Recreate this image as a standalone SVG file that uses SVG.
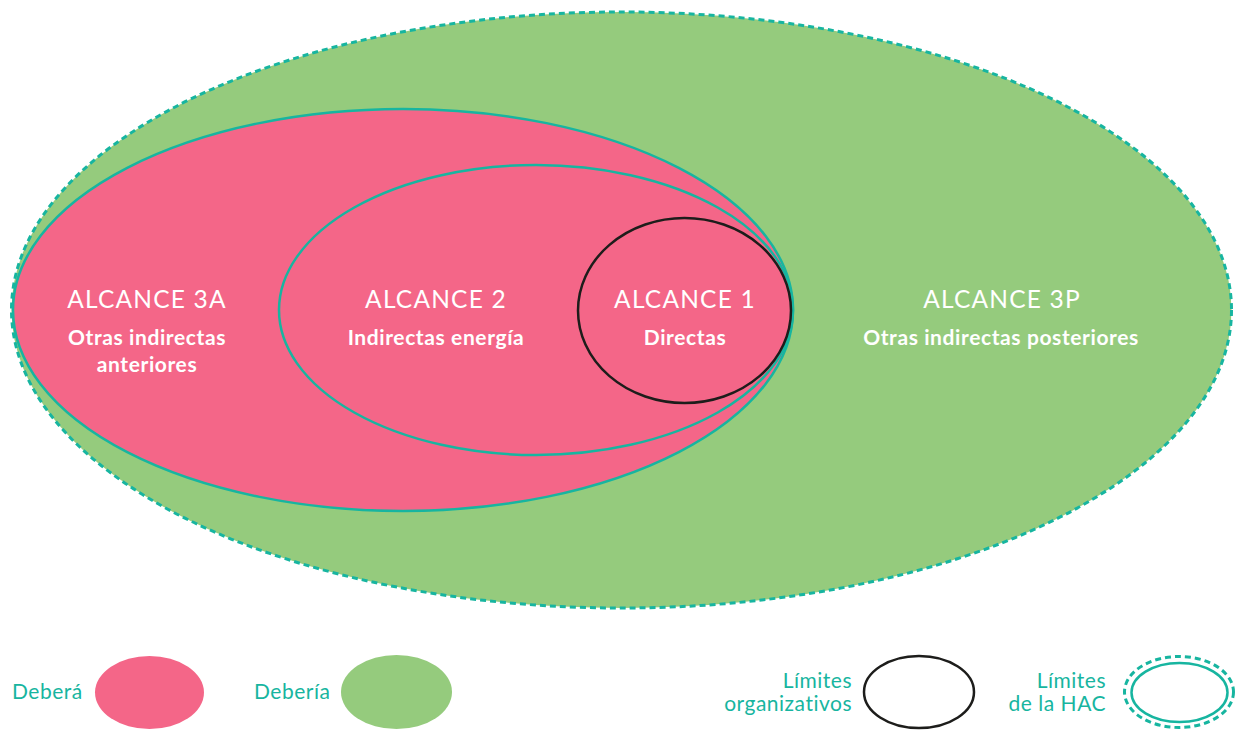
<svg xmlns="http://www.w3.org/2000/svg" width="1235" height="731" viewBox="0 0 1235 731">
  <style>
    .hac { fill: #95cb7d; stroke: #17b5a0; stroke-width: 3; stroke-dasharray: 6 4; }
    .scope { fill: #f46688; stroke: #17b5a0; stroke-width: 2.5; }
    .org { fill: #f46688; stroke: #1d1d1b; stroke-width: 2.5; }
    .title { font-family: "Lato", "Open Sans", sans-serif; font-size: 24.5px; letter-spacing: 1.2px; fill: #ffffff; text-anchor: middle; }
    .sub { font-family: "Lato", "Open Sans", sans-serif; font-size: 21px; font-weight: bold; letter-spacing: 0.6px; fill: #ffffff; text-anchor: middle; }
    .leg { font-family: "Lato", "Open Sans", sans-serif; font-size: 21px; letter-spacing: 0.5px; fill: #17b5a0; }
  </style>

  <!-- Scope boundaries -->
  <g id="alcance-3p">
    <ellipse class="hac" cx="621.5" cy="310" rx="610" ry="298"/>
    <text class="title" x="1002" y="308">ALCANCE 3P</text>
    <text class="sub" x="1001" y="345">Otras indirectas posteriores</text>
  </g>

  <g id="alcance-3a">
    <ellipse class="scope" cx="403" cy="310" rx="390" ry="201"/>
    <text class="title" x="147" y="308">ALCANCE 3A</text>
    <text class="sub" x="147" y="345">Otras indirectas</text>
    <text class="sub" x="147" y="372">anteriores</text>
  </g>

  <g id="alcance-2">
    <ellipse class="scope" cx="536" cy="310" rx="257" ry="145"/>
    <text class="title" x="436" y="308">ALCANCE 2</text>
    <text class="sub" x="436" y="345">Indirectas energía</text>
  </g>

  <g id="alcance-1">
    <ellipse class="org" cx="684.5" cy="310.5" rx="106.5" ry="92.5"/>
    <text class="title" x="685" y="308">ALCANCE 1</text>
    <text class="sub" x="685" y="345">Directas</text>
  </g>

  <!-- Legend -->
  <g id="legend-debera">
    <text class="leg" x="12" y="699">Deberá</text>
    <ellipse cx="149.5" cy="692.5" rx="54.5" ry="36.5" fill="#f46688"/>
  </g>

  <g id="legend-deberia">
    <text class="leg" x="254" y="699">Debería</text>
    <ellipse cx="396.5" cy="692" rx="55.5" ry="37" fill="#95cb7d"/>
  </g>

  <g id="legend-org">
    <text class="leg" x="852" y="688" text-anchor="end">Límites</text>
    <text class="leg" x="852" y="711" text-anchor="end">organizativos</text>
    <ellipse cx="919" cy="692" rx="55" ry="36" fill="none" stroke="#1d1d1b" stroke-width="2.5"/>
  </g>

  <g id="legend-hac">
    <text class="leg" x="1106" y="688" text-anchor="end">Límites</text>
    <text class="leg" x="1106" y="711" text-anchor="end">de la HAC</text>
    <ellipse cx="1179" cy="692" rx="54.5" ry="35.5" fill="none" stroke="#17b5a0" stroke-width="3" stroke-dasharray="6 4"/>
    <ellipse cx="1179.5" cy="692.5" rx="48" ry="29.5" fill="none" stroke="#17b5a0" stroke-width="2.5"/>
  </g>
</svg>
